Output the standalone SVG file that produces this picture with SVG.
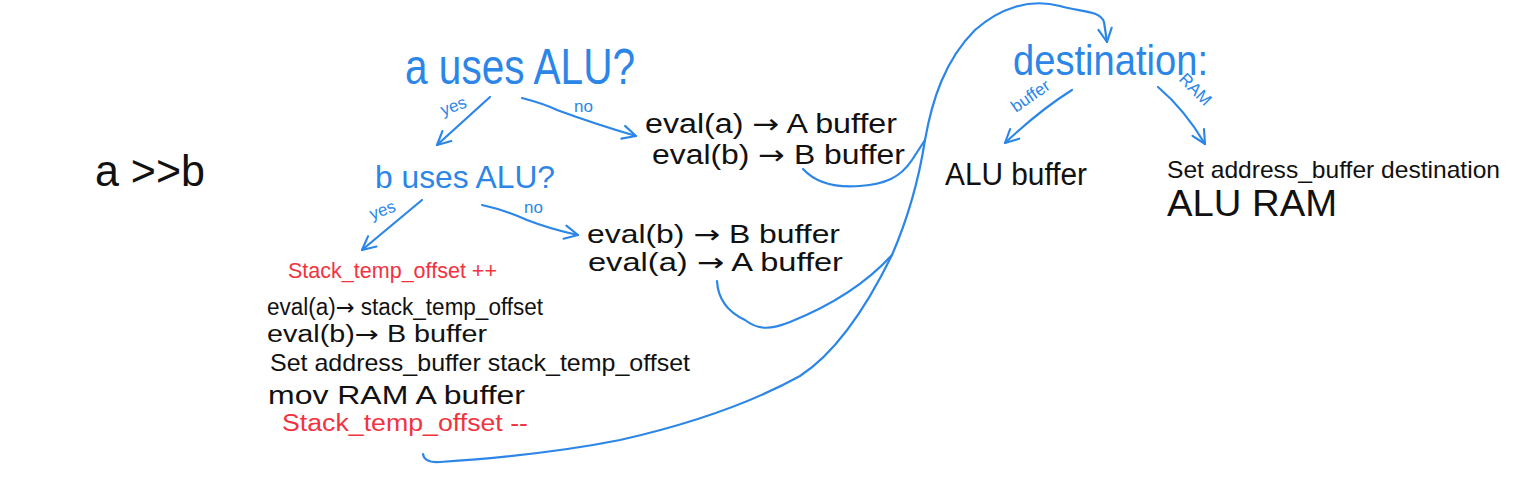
<svg xmlns="http://www.w3.org/2000/svg" width="1536" height="478" viewBox="0 0 1536 478">
<style>
text{font-family:"Liberation Sans","DejaVu Sans",Arial,sans-serif}
.k{fill:#111}
.b{fill:#2b86e8}
.r{fill:#f2333f}
.ar{font-family:"DejaVu Sans",sans-serif}
.c{fill:none;stroke:#2b86e8;stroke-width:2.2;stroke-linecap:round;stroke-linejoin:round}
</style>
<defs>
<marker id="ah" viewBox="0 0 12 12" refX="11" refY="6" markerWidth="16" markerHeight="16" markerUnits="userSpaceOnUse" orient="auto">
<path d="M1,1 L11,6 L1,11" fill="none" stroke="#2b86e8" stroke-width="1.6" stroke-linecap="round" stroke-linejoin="round"/>
</marker>
</defs>
<rect width="1536" height="478" fill="#fff"/>
<g id="expr"><text class="k" x="95" y="186" font-size="44" textLength="110" lengthAdjust="spacingAndGlyphs">a &gt;&gt;b</text></g>
<g id="q-a"><text class="b" x="405" y="84" font-size="50" textLength="230" lengthAdjust="spacingAndGlyphs">a uses ALU?</text></g>
<g id="q-b"><text class="b" x="375" y="188" font-size="32" textLength="180" lengthAdjust="spacingAndGlyphs">b uses ALU?</text></g>
<g id="a-no"><text class="k" x="645" y="133" font-size="27" textLength="252" lengthAdjust="spacingAndGlyphs">eval(a) <tspan class="ar">→</tspan> A buffer</text><text class="k" x="652" y="164" font-size="27" textLength="253" lengthAdjust="spacingAndGlyphs">eval(b) <tspan class="ar">→</tspan> B buffer</text></g>
<g id="b-no"><text class="k" x="587" y="243" font-size="25" textLength="253" lengthAdjust="spacingAndGlyphs">eval(b) <tspan class="ar">→</tspan> B buffer</text><text class="k" x="588" y="271" font-size="25" textLength="255" lengthAdjust="spacingAndGlyphs">eval(a) <tspan class="ar">→</tspan> A buffer</text></g>
<g id="b-yes">
<text class="r" x="288" y="278" font-size="22" textLength="209" lengthAdjust="spacingAndGlyphs">Stack_temp_offset ++</text>
<text class="k" x="267" y="315" font-size="23" textLength="276" lengthAdjust="spacingAndGlyphs">eval(a)<tspan class="ar">→</tspan> stack_temp_offset</text>
<text class="k" x="267" y="342" font-size="23" textLength="220" lengthAdjust="spacingAndGlyphs">eval(b)<tspan class="ar">→</tspan> B buffer</text>
<text class="k" x="270" y="371" font-size="24" textLength="420" lengthAdjust="spacingAndGlyphs">Set address_buffer stack_temp_offset</text>
<text class="k" x="268" y="404" font-size="25" textLength="257" lengthAdjust="spacingAndGlyphs">mov RAM A buffer</text>
<text class="r" x="282" y="431" font-size="23" textLength="246" lengthAdjust="spacingAndGlyphs">Stack_temp_offset --</text>
</g>
<g id="dest"><text class="b" x="1013" y="75" font-size="42" textLength="195" lengthAdjust="spacingAndGlyphs">destination:</text></g>
<g id="dest-buf"><text class="k" x="945" y="185" font-size="31" textLength="142" lengthAdjust="spacingAndGlyphs">ALU buffer</text></g>
<g id="dest-ram"><text class="k" x="1167" y="178" font-size="24" textLength="333" lengthAdjust="spacingAndGlyphs">Set address_buffer destination</text><text class="k" x="1167" y="216" font-size="36" textLength="170" lengthAdjust="spacingAndGlyphs">ALU RAM</text></g>
<g id="connectors">
<path class="c" d="M490,97 L437,145" marker-end="url(#ah)"/>
<path class="c" d="M522,98 Q545,104 557,110 Q595,124 636,136" marker-end="url(#ah)"/>
<path class="c" d="M422,200 L362,250" marker-end="url(#ah)"/>
<path class="c" d="M482,205 Q505,210 527,220 Q550,229 578,235" marker-end="url(#ah)"/>
<path class="c" d="M1072,90 Q1040,110 1005,143" marker-end="url(#ah)"/>
<path class="c" d="M1158,87 Q1185,110 1205,144" marker-end="url(#ah)"/>
<path class="c" d="M423,454 Q424,463 440,462 C500,458 560,452 620,440 C700,422 760,398 800,376 C840,350 870,300 892,255 C905,225 918,185 925,140 C932,100 945,60 975,30 C1000,8 1030,-2 1060,6 C1080,12 1100,10 1104,22 L1107,42" marker-end="url(#ah)"/>
<path class="c" d="M717,281 C718,300 728,312 745,320 C758,330 770,330 790,322 C820,310 860,290 892,255"/>
<path class="c" d="M803,169 C815,182 835,188 860,186 C885,184 900,178 912,160 L925,140"/>
<text class="b" font-size="17" transform="translate(443,116) rotate(-20)">yes</text>
<text class="b" font-size="17" x="574" y="112">no</text>
<text class="b" font-size="17" transform="translate(372,220) rotate(-20)">yes</text>
<text class="b" font-size="17" x="524" y="213">no</text>
<text class="b" font-size="17" transform="translate(1016,113) rotate(-35)">buffer</text>
<text class="b" font-size="17" transform="translate(1178,80) rotate(45)">RAM</text>
</g>
</svg>
